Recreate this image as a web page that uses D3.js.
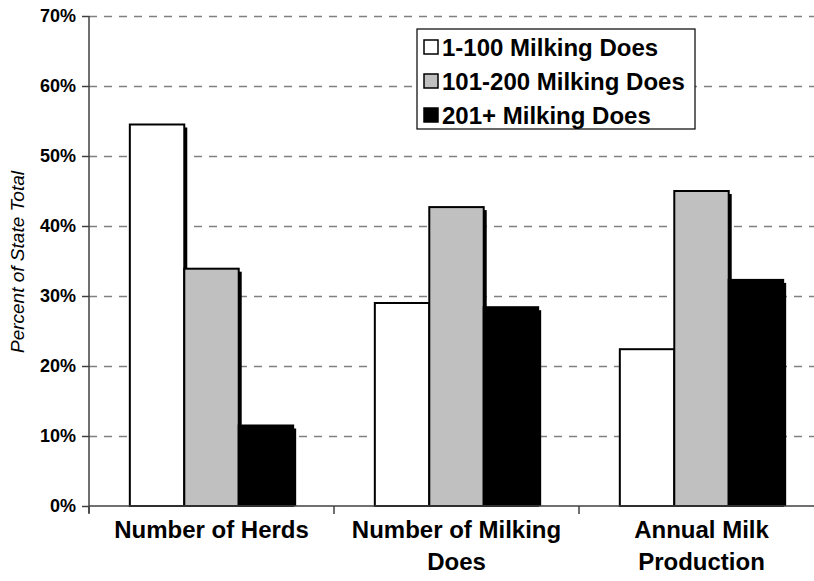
<!DOCTYPE html>
<html>
<head>
<meta charset="utf-8">
<script src="https://cdn.jsdelivr.net/npm/d3@7"></script>
<style>
  html, body { margin: 0; padding: 0; background: #fff; }
  svg { display: block; font-family: "Liberation Sans", Arial, sans-serif; }
</style>
</head>
<body>
<svg id="chart" width="814" height="581"></svg>
<script>
// Share of state total by herd size class
const categories = [["Number of Herds"], ["Number of Milking", "Does"], ["Annual Milk", "Production"]];
const seriesNames = ["1-100 Milking Does", "101-200 Milking Does", "201+ Milking Does"];
const seriesColors = ["#ffffff", "#c0c0c0", "#000000"];
const small = [0.545, 0.290, 0.224];   // 1-100 milking does
const medium = [0.339, 0.427, 0.450];  // 101-200 milking does
const large = [0.115, 0.284, 0.323];   // 201+ milking does
const yTicks = [0, 0.1, 0.2, 0.3, 0.4, 0.5, 0.6, 0.7];

const series = [small, medium, large];
const svg = d3.select("#chart");

const plotLeft = 89, plotTop = 16, plotBottom = 506, bandW = 245;
const plotRight = plotLeft + bandW * categories.length;

const x = d3.scaleBand().domain(d3.range(categories.length)).range([plotLeft, plotRight]).paddingInner(0).paddingOuter(0);
const inner = d3.scaleBand().domain(d3.range(series.length)).range([0, x.bandwidth()]).paddingOuter(0.75).paddingInner(0);
const y = d3.scaleLinear().domain([0, 0.7]).range([plotBottom, plotTop]);

// dashed gridlines
svg.append("g").selectAll("line").data(yTicks.filter(d => d > 0)).join("line")
  .attr("x1", plotLeft).attr("x2", plotRight)
  .attr("y1", d => Math.round(y(d)) + 0.5).attr("y2", d => Math.round(y(d)) + 0.5)
  .attr("stroke", "#808080").attr("stroke-width", 1.3).attr("stroke-dasharray", "8,7");

// bars with drop shadow
const groups = svg.append("g").selectAll("g").data(categories).join("g")
  .attr("transform", (d, i) => `translate(${x(i)},0)`);

const barData = (d, i) => series.map((s, j) => ({ j, v: s[i] }));

groups.selectAll("rect.shadow").data(barData).join("rect").attr("class", "shadow")
  .attr("x", d => inner(d.j) + 3).attr("y", d => y(d.v) + 3)
  .attr("width", inner.bandwidth()).attr("height", d => plotBottom - y(d.v) - 3)
  .attr("fill", "#000");

groups.selectAll("rect.bar").data(barData).join("rect").attr("class", "bar")
  .attr("x", d => inner(d.j)).attr("y", d => y(d.v))
  .attr("width", inner.bandwidth()).attr("height", d => plotBottom - y(d.v))
  .attr("fill", d => seriesColors[d.j]).attr("stroke", "#000").attr("stroke-width", 2);

// y axis
const yAxis = svg.append("g").attr("transform", `translate(${plotLeft},0)`)
  .call(d3.axisLeft(y).tickValues(yTicks).tickFormat(d3.format(".0%")).tickSize(7).tickPadding(6));
yAxis.select(".domain").attr("stroke", "#404040").attr("stroke-width", 1.5)
  .attr("d", `M0,${plotTop}V${plotBottom + 7}`);
yAxis.selectAll(".tick line").attr("stroke", "#404040").attr("stroke-width", 1.5);
yAxis.selectAll(".tick text").attr("font-size", 18).attr("font-weight", "bold")
  .attr("fill", "#000").attr("font-family", "Liberation Sans, Arial, sans-serif");

// x axis with ticks at category boundaries
const xAxis = svg.append("g");
xAxis.append("line").attr("x1", plotLeft).attr("x2", plotRight).attr("y1", plotBottom).attr("y2", plotBottom)
  .attr("stroke", "#404040").attr("stroke-width", 1.5);
xAxis.selectAll("line.tk").data(d3.range(categories.length + 1)).join("line").attr("class", "tk")
  .attr("x1", i => plotLeft + bandW * i).attr("x2", i => plotLeft + bandW * i)
  .attr("y1", plotBottom).attr("y2", plotBottom + 8)
  .attr("stroke", "#404040").attr("stroke-width", 1.5);

const labels = xAxis.selectAll("text").data(categories).join("text")
  .attr("x", (d, i) => x(i) + x.bandwidth() / 2).attr("y", 538)
  .attr("text-anchor", "middle").attr("font-size", 24).attr("font-weight", "bold");
labels.selectAll("tspan").data(d => d).join("tspan")
  .attr("x", function () { return this.parentNode.getAttribute("x"); })
  .attr("dy", (d, k) => k === 0 ? 0 : 32).text(d => d);

// y axis title
svg.append("text").attr("transform", "translate(24,262) rotate(-90)")
  .attr("text-anchor", "middle").attr("font-size", 19).attr("font-style", "italic")
  .text("Percent of State Total");

// legend
const legend = svg.append("g").attr("transform", "translate(417,29)");
legend.append("rect").attr("width", 278).attr("height", 100)
  .attr("fill", "#fff").attr("stroke", "#000").attr("stroke-width", 1.2);
const items = legend.selectAll("g").data(seriesNames).join("g")
  .attr("transform", (d, i) => `translate(7,${19 + i * 34})`);
items.append("rect").attr("x", 0).attr("y", -8).attr("width", 14).attr("height", 14)
  .attr("fill", (d, i) => seriesColors[i]).attr("stroke", "#000").attr("stroke-width", 1.5);
items.append("text").attr("x", 18).attr("y", 8).attr("font-size", 24).attr("font-weight", "bold").text(d => d);
</script>
</body>
</html>
